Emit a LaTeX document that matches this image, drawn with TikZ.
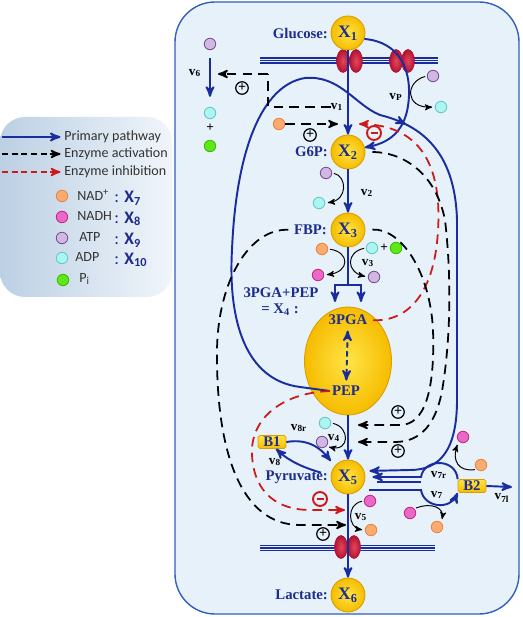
\documentclass[tikz,border=0pt]{standalone}
\usepackage{fontspec}
\setmainfont{Liberation Serif}
\newfontfamily\legendfont{Carlito}
\usetikzlibrary{arrows, shapes.geometric, decorations.markings}

\definecolor{cellfill}{RGB}{230,241,250}
\definecolor{cellrim}{RGB}{50,95,190}
\definecolor{flowblue}{RGB}{25,45,160}
\definecolor{labblue}{RGB}{30,45,140}
\definecolor{inhred}{RGB}{205,25,25}
\definecolor{poolin}{RGB}{255,228,70}
\definecolor{poolout}{RGB}{246,188,0}
\definecolor{poolrim}{RGB}{215,160,0}
\definecolor{chanin}{RGB}{230,70,90}
\definecolor{chanout}{RGB}{175,20,50}
\definecolor{nadfill}{RGB}{250,172,112}
\definecolor{nadrim}{RGB}{232,132,70}
\definecolor{nadhfill}{RGB}{232,105,200}
\definecolor{nadhrim}{RGB}{200,40,125}
\definecolor{atpfill}{RGB}{208,184,226}
\definecolor{atprim}{RGB}{120,80,150}
\definecolor{adpfill}{RGB}{172,245,240}
\definecolor{adprim}{RGB}{100,200,200}
\definecolor{phosfill}{RGB}{95,232,25}
\definecolor{phosrim}{RGB}{60,190,0}
\definecolor{legleft}{RGB}{188,208,228}
\definecolor{legright}{RGB}{240,245,250}

\newcommand{\rate}[1]{v\textsubscript{#1}}
\newcommand{\pool}[1]{X\textsubscript{#1}}

\begin{document}
\begin{tikzpicture}[x=0.02cm,y=-0.02cm]

\tikzset{pool/.style = {circle, draw=poolrim, line width=0.5pt, inner color=poolin, outer color=poolout, minimum size=0.68cm, inner sep=0pt, text=labblue, font=\fontsize{10}{10}\selectfont\bfseries}}
\tikzset{lab/.style = {text=labblue, inner sep=1pt, font=\fontsize{8.4}{10}\selectfont\bfseries}}
\tikzset{rlab/.style = {inner sep=0pt, font=\fontsize{7.5}{8}\selectfont\bfseries}}
\tikzset{flow/.style = {->, > = stealth', draw=flowblue, line width=1.1pt}}
\tikzset{act/.style = {->, > = stealth', draw=black, line width=1pt, dash pattern=on 5.5pt off 3.5pt}}
\tikzset{inh/.style = {act, draw=inhred}}
\tikzset{side/.style = {->, > = stealth', line width=0.55pt}}
\tikzset{mol/.style = {circle, draw, line width=0.5pt, minimum size=0.23cm, inner sep=0pt}}
\tikzset{nadp/.style = {mol, fill=nadfill, draw=nadrim}}
\tikzset{nadh/.style = {mol, fill=nadhfill, draw=nadhrim}}
\tikzset{atp/.style = {mol, fill=atpfill, draw=atprim}}
\tikzset{adp/.style = {mol, fill=adpfill, draw=adprim}}
\tikzset{phos/.style = {mol, fill=phosfill, draw=phosrim}}
\tikzset{chan/.style = {ellipse, draw=chanout, line width=0.3pt, inner color=chanin, outer color=chanout, minimum width=0.26cm, minimum height=0.46cm, inner sep=0pt}}
\tikzset{memb/.style = {draw=flowblue, line width=0.7pt}}
\tikzset{bbox/.style = {rectangle, rounded corners=1pt, draw=poolrim, line width=0.4pt, top color=poolin, bottom color=poolout, minimum width=0.56cm, minimum height=0.26cm, inner sep=0pt, text=labblue, font=\fontsize{8.4}{10}\selectfont\bfseries}}
\tikzset{plussign/.style = {circle, draw, line width=0.7pt, minimum size=0.25cm, inner sep=0pt, font=\fontsize{8}{8}\selectfont\bfseries}}
\tikzset{minussign/.style = {circle, draw=inhred, line width=1.1pt, minimum size=0.28cm, inner sep=0pt}}
\tikzset{leg/.style = {inner sep=0pt, text=black!80, font=\legendfont\fontsize{8}{9}\selectfont}}
\tikzset{legx/.style = {inner sep=0pt, text=labblue, font=\legendfont\fontsize{10}{10}\selectfont\bfseries}}

\useasboundingbox (0,0) rectangle (522,617);

%legend
\shade[left color=legleft, right color=legright, rounded corners=0.5cm] (0,117) rectangle (172,297);
\coordinate (la1) at (2,137);
\coordinate (la2) at (2,154);
\coordinate (la3) at (2,172);
\node[leg, anchor=west] (lt1) at (64,137) {Primary pathway};
\node[leg, anchor=west] (lt2) at (64,154) {Enzyme activation};
\node[leg, anchor=west] (lt3) at (64,172) {Enzyme inhibition};
\draw[flow, shorten >=0.07cm] (la1) -- (lt1.west);
\draw[act, dash pattern=on 3.5pt off 2pt, shorten >=0.07cm] (la2) -- (lt2.west);
\draw[inh, dash pattern=on 3.5pt off 2pt, shorten >=0.07cm] (la3) -- (lt3.west);
\node[nadp] (lnad) at (62,196) {};
\node[nadh] (lnadh) at (62,217) {};
\node[atp] (latp) at (62,238) {};
\node[adp] (ladp) at (62,258) {};
\node[phos] (lphos) at (63,280) {};
\node[leg, anchor=west] (lnadt) at (77,195) {NAD\textsuperscript{+}};
\node[leg, anchor=west] (lnadht) at (77,216) {NADH};
\node[leg, anchor=west] (latpt) at (79,237) {ATP};
\node[leg, anchor=west] (ladpt) at (75,257) {ADP};
\node[leg, anchor=west] (lphost) at (79,279) {P\textsubscript{i}};
\node[legx, anchor=west] (lx7) at (114,198) {{\mdseries:} \pool{7}};
\node[legx, anchor=west] (lx8) at (114,219) {{\mdseries:} \pool{8}};
\node[legx, anchor=west] (lx9) at (114,240) {{\mdseries:} \pool{9}};
\node[legx, anchor=west] (lx10) at (114,260) {{\mdseries:} \pool{10}};

%cell and membranes
\draw[draw=cellrim, fill=cellfill, line width=0.8pt, rounded corners=0.8cm] (175,2) rectangle (519,614);
\foreach \y in {58,60.5,63} \draw[memb] (260,\y) -- (438,\y);
\foreach \y in {545.5,548,550.5} \draw[memb] (260,\y) -- (435,\y);
\node[chan] (ch1) at (343,61) {};
\node[chan] (ch2) at (356,61) {};
\node[chan] (ch3) at (396,61) {};
\node[chan] (ch4) at (408,61) {};
\node[chan] (ch5) at (341,547) {};
\node[chan] (ch6) at (354,547) {};

%pools
\node[pool] (x1) at (348,33) {\pool{1}};
\node[pool] (x2) at (348,152) {\pool{2}};
\node[pool] (x3) at (348,230) {\pool{3}};
\node[pool, ellipse, minimum width=1.74cm, minimum height=2.16cm] (x4) at (348,361) {};
\node[pool] (x5) at (348,477) {\pool{5}};
\node[pool] (x6) at (348,595) {\pool{6}};
\node[bbox] (b1) at (272,442) {B1};
\node[bbox] (b2) at (472,486) {B2};

%labels
\node[lab, anchor=east] (glc) at (330,33) {Glucose:};
\node[lab, anchor=east] (g6p) at (330,152) {G6P:};
\node[lab, anchor=east] (fbp) at (329,230) {FBP:};
\node[lab] (x4top) at (281,293) {3PGA+PEP};
\node[lab] (x4bot) at (280,310) {= \pool{4} :};
\node[lab] (pga) at (348,320) {3PGA};
\node[lab] (pep) at (346,391) {PEP};
\node[lab, anchor=east] (pyr) at (330,477) {Pyruvate:};
\node[lab, anchor=east] (lac) at (330,595) {Lactate:};

%rate labels
\node[rlab] (v6) at (195,73) {\rate{6}};
\node[rlab] (v1) at (337,107) {\rate{1}};
\node[rlab] (vp) at (396,97) {\rate{P}};
\node[rlab] (v2) at (367,193) {\rate{2}};
\node[rlab] (v3) at (368,263) {\rate{3}};
\node[rlab] (v4) at (334,438) {\rate{4}};
\node[rlab] (v8r) at (299,428) {\rate{8r}};
\node[rlab] (v8) at (275,462) {\rate{8}};
\node[rlab] (v5) at (361,517) {\rate{5}};
\node[rlab] (v7r) at (439,475) {\rate{7r}};
\node[rlab] (v7) at (437,495) {\rate{7}};
\node[rlab] (v7l) at (502,498) {\rate{7l}};

%cofactors
\node[atp] (atp6) at (210,44) {};
\node[adp] (adp6) at (210,113) {};
\node[rlab] (plus6) at (210,128) {+};
\node[phos] (phos6) at (210,146) {};
\node[nadp] (nad1) at (279,124) {};
\node[atp] (atpp) at (433,76) {};
\node[adp] (adpp) at (441,107) {};
\node[atp] (atp2) at (326,173) {};
\node[adp] (adp2) at (319,203) {};
\node[nadp] (nad3) at (322,249) {};
\node[adp] (adp3) at (372,248) {};
\node[rlab] (plus3) at (384,248) {+};
\node[phos] (phos3) at (396,248) {};
\node[nadh] (nadh3) at (318,275) {};
\node[atp] (atp3) at (374,277) {};
\node[adp] (adp4) at (325,423) {};
\node[atp] (atp4) at (322,442) {};
\node[nadh] (nadh5) at (370,501) {};
\node[nadp] (nad5) at (371,530) {};
\node[nadh] (nadh7r) at (463,437) {};
\node[nadp] (nad7r) at (481,465) {};
\node[nadh] (nadh7) at (410,513) {};
\node[nadp] (nad7) at (437,527) {};

%signs
\node[plussign] (s6) at (242,88) {+};
\node[plussign] (s1) at (310,135) {+};
\node[plussign] (s4a) at (398,412) {+};
\node[plussign] (s4b) at (398,451) {+};
\node[plussign] (s5) at (323,534) {+};
\node[minussign] (m1) at (374,133) {\color{inhred}\rule{0.14cm}{0.05cm}};
\node[minussign] (m5) at (320,499) {\color{inhred}\rule{0.14cm}{0.05cm}};

%free ends
\coordinate (v6a) at (218,74);
\coordinate (v1a) at (338,124);
\coordinate (v1i) at (359,124);
\coordinate (v3s) at (348,285);
\coordinate (v3l) at (335,302);
\coordinate (v3r) at (361,302);
\coordinate (v4a) at (358,425);
\coordinate (v4b) at (358,442);
\coordinate (v5i) at (345,510);
\coordinate (v5a) at (346,525);
\coordinate (v7rj) at (421,477);
\coordinate (v7rk) at (421,482);
\coordinate (v7rm) at (377,482);
\coordinate (v7s) at (369,490);
\coordinate (v7end) at (512,487);

%main pathway
\draw[flow] (x1) -- (x2);
\draw[flow] (x2) -- (x3);
\draw[flow, -] (x3) -- (v3s);
\draw[flow] (v3s) -| (v3l);
\draw[flow] (v3s) -| (v3r);
\draw[flow] (x4) -- (x5);
\draw[flow] (x5) -- (x6);
\draw[flow, <->, dash pattern=on 3pt off 2pt, shorten <=2pt, shorten >=2pt] (pga) -- (pep);
\draw[flow] (x1.-20) .. controls (400,42) and (410,70) .. (409,95) .. controls (408,125) and (395,142) .. (x2.15);
\draw[flow, shorten <=0.16cm, shorten >=0.2cm] (atp6) -- (adp6);
\draw[flow, postaction={decorate}, decoration={markings, mark=at position 0.54 with {\arrow[line width=1.1pt]{stealth'}}}, shorten >=0.1cm]
  (pep.west) -- (300,387) .. controls (245,380) and (228,320) .. (232,250) .. controls (236,150) and (262,85) .. (305,78)
  .. controls (340,75) and (355,105) .. (380,115) .. controls (420,125) and (455,150) .. (457,220) -- (457,400)
  .. controls (457,450) and (440,470) .. (410,470) -- (x5.20);
\draw[flow, shorten >=0.14cm] (b2.north west) .. controls (456,458) and (424,458) .. (v7rj) -- (x5.east);
\draw[flow, -] (v7rk) -- (v7rm);
\draw[flow] (v7s) -- (421,490) .. controls (424,508) and (450,510) .. (b2.south west);
\draw[flow] (b2.east) -- (v7end);
\draw[flow, shorten >=0.12cm] (b1.east) .. controls (310,438) and (322,450) .. (x5.140);
\draw[flow, shorten <=0.2cm] (x5.175) .. controls (305,468) and (290,462) .. (b1.-60);

%side reactions
\draw[side, shorten <=1pt, shorten >=1.5pt] (atpp.west) .. controls (405,82) and (405,108) .. (adpp.west);
\draw[side, shorten <=1pt, shorten >=1.5pt] (atp2.east) .. controls (347,176) and (348,200) .. (adp2.east);
\draw[side, shorten <=1pt, shorten >=1.5pt] (nad3.east) .. controls (350,252) and (350,272) .. (nadh3.east);
\draw[side, shorten <=1pt, shorten >=1.5pt] (adp3.west) .. controls (346,252) and (346,272) .. (atp3.west);
\draw[side, shorten <=1pt, shorten >=1.5pt] (adp4.east) .. controls (350,427) and (350,452) .. (atp4.south east);
\draw[side, shorten <=1pt, shorten >=1.5pt] (nadh5.west) .. controls (346,504) and (348,528) .. (nad5.west);
\draw[side, shorten <=1pt, shorten >=2pt] (nad7r.south west) .. controls (458,472) and (452,460) .. (nadh7r.south west);
\draw[side, shorten <=1pt, shorten >=2pt] (nadh7.north east) .. controls (432,502) and (444,508) .. (nad7.north east);

%regulation
\draw[act, -] (v1.west) -- (268,107) -- (268,74);
\draw[act] (268,74) -- (v6a);
\draw[act] (nad1.east) -- (v1a);
\draw[inh, shorten <=2pt] (pga.east) .. controls (410,322) and (435,290) .. (438,230) .. controls (442,165) and (420,125) .. (v1i);
\draw[act, shorten <=4pt] (x2.east) .. controls (400,152) and (435,170) .. (445,220) .. controls (452,280) and (450,340) .. (443,385) .. controls (437,425) and (420,442) .. (395,442) -- (v4b);
\draw[act, shorten <=4pt] (x3.east) .. controls (400,228) and (430,270) .. (433,330) .. controls (435,390) and (425,425) .. (400,425) -- (v4a);
\draw[act, shorten <=2pt] (fbp.west) .. controls (250,228) and (218,280) .. (217,350) .. controls (216,450) and (240,525) .. (300,525) -- (v5a);
\draw[inh] (pep.west) .. controls (280,393) and (250,420) .. (252,455) .. controls (254,495) and (280,510) .. (310,510) -- (v5i);

\end{tikzpicture}
\end{document}
